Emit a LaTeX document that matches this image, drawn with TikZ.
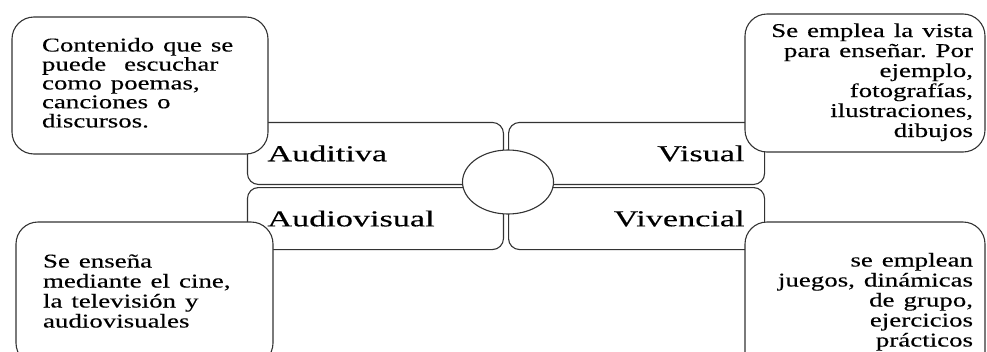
\documentclass[tikz,border=0pt]{standalone}
\usepackage{fontspec}
\usepackage{graphicx}
\usetikzlibrary{shapes.geometric}
\setmainfont{Liberation Serif}
\newfontfamily\textefont[FakeBold=0.25]{Liberation Serif}
\frenchspacing
\newcommand{\myrad}{11pt}
% texte etire en largeur
\newcommand{\etire}[2][1.38]{\scalebox{#1}[1]{#2}}
\newcommand{\lignesg}[1]{\etire{\begin{tabular}{@{}l@{}}#1\end{tabular}}}
\newcommand{\lignesd}[1]{\etire{\begin{tabular}{@{}r@{}}#1\end{tabular}}}
\tikzset{
    node style quad/.style={draw,rounded corners=\myrad,fill=white,
        minimum width=256pt,minimum height=62pt,inner xsep=20pt,
        text width=216pt,font=\textefont\fontsize{22.8}{24}\selectfont},
    node style desc/.style={draw,rounded corners=22pt,fill=white,
        font=\textefont\fontsize{19.5}{#1}\selectfont},
    node style desc/.default=20,
    node style centre/.style={draw,ellipse,fill=white,
        minimum width=91pt,minimum height=64pt},
}

\begin{document}
\begin{tikzpicture}[x=1pt,y=-1pt,line width=1.1pt,draw=black!80]
\useasboundingbox (0,0) rectangle (987,351);
% les quadrants
\node (auditiva) [node style quad,align=left,anchor=south east] at (504,185) {\etire[1.5]{Auditiva}};
\node (visual) [node style quad,align=right,anchor=south west] at (508,185) {\etire[1.5]{Visual}};
\node (audiovisual) [node style quad,align=left,anchor=north east] at (504,187) {\etire[1.5]{Audiovisual}};
\node (vivencial) [node style quad,align=right,anchor=north west] at (508,187) {\etire[1.5]{Vivencial}};
\node (centre) [node style centre] at (508,182) {};
% les descriptions
\node (descaud) [node style desc=18.8,minimum width=256pt,minimum height=137pt,
    inner xsep=30pt,text width=196pt,align=left] at (140,85.5)
    {\lignesg{Contenido que se\\ puede\ \ escuchar\\ como poemas,\\ canciones o\\ discursos.}};
\node (descvis) [node style desc,minimum width=240pt,minimum height=138pt,
    inner xsep=12pt,text width=216pt,align=right] at (865,83)
    {\lignesd{Se emplea la vista\\ para enseñar. Por\\ ejemplo,\\ fotografías,\\ ilustraciones,\\ dibujos}};
\node (descaudvis) [node style desc,minimum width=257pt,minimum height=143pt,
    inner xsep=27pt,text width=203pt,align=left] at (144.5,293.5)
    {\lignesg{Se enseña\\ mediante el cine,\\ la televisión y\\ audiovisuales}};
\node (descviv) [node style desc,minimum width=240pt,minimum height=161pt,
    inner xsep=12pt,text width=216pt,align=right] at (865,302.5)
    {\lignesd{se emplean\\ juegos, dinámicas\\ de grupo,\\ ejercicios\\ prácticos}};
\end{tikzpicture}
\end{document}
